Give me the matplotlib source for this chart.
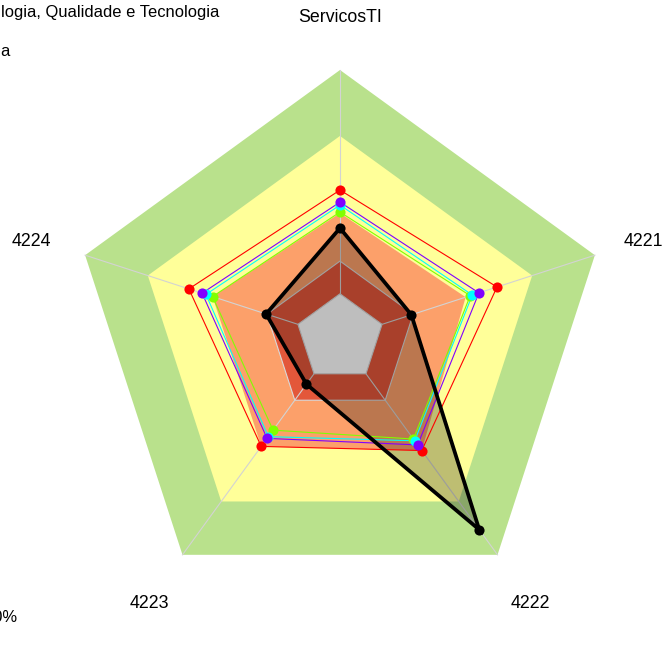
import numpy as np
import matplotlib
matplotlib.use("Agg")
import matplotlib.pyplot as plt

# ---- data (radial fraction of outer ring, 0..1) ----
categories = ["ServicosTI", "4224", "4223", "4222", "4221"]
band_green = [1.0, 1.0, 1.0, 1.0, 1.0]
band_yellow = [0.754, 0.754, 0.754, 0.754, 0.754]
band_orange = [0.466, 0.50, 0.50, 0.519, 0.493]
band_red = [0.287, 0.287, 0.287, 0.287, 0.287]
band_hole = [0.165, 0.165, 0.165, 0.165, 0.165]

series_red = [0.552, 0.593, 0.50, 0.519, 0.616]
series_green = [0.470, 0.50, 0.425, 0.466, 0.511]
series_cyan = [0.496, 0.526, 0.455, 0.474, 0.519]
series_purple = [0.507, 0.541, 0.463, 0.493, 0.545]
series_black = [0.41, 0.29, 0.213, 0.884, 0.28]

series_colors = ["#FF0000", "#80FF00", "#00FFFF", "#8000FF"]

W, H = 663, 666
cx, cy, R = 340.0, 338.0, 268.0

fig = plt.figure(figsize=(W / 100, H / 100), dpi=100)
ax = fig.add_axes([0, 0, 1, 1])
ax.set_xlim(-cx / R, (W - cx) / R)
ax.set_ylim(-(H - cy) / R, cy / R)
ax.set_aspect("equal")
ax.axis("off")

n = len(categories)
ang = np.pi / 2 + np.arange(n) * 2 * np.pi / n
ca, sa = np.cos(ang), np.sin(ang)


def xy(vals):
    v = np.asarray(vals, dtype=float)
    return v * ca, v * sa


def fill_poly(vals, color, **kw):
    x, y = xy(vals)
    ax.fill(x, y, color=color, lw=0, **kw)


fill_poly(band_green, "#B9E18C", zorder=1)
fill_poly(band_yellow, "#FFFF99", zorder=2)
fill_poly(band_orange, "#FCA06A", zorder=3)
x, y = xy(band_red)
ax.fill(x, y, facecolor="#E3573A", edgecolor="#D9D9D9", lw=0.8, zorder=4)
x, y = xy(band_hole)
ax.fill(x, y, facecolor="white", edgecolor="#D9D9D9", lw=0.8, zorder=5)

# spokes
for i in range(n):
    ax.plot([band_hole[i] * ca[i], ca[i]], [band_hole[i] * sa[i], sa[i]],
            color="#D3D3D3", lw=0.8, zorder=6)

# black series fill
bx, by = xy(series_black)
ax.fill(bx, by, color="black", alpha=0.255, lw=0, zorder=7)

for vals, col in zip([series_red, series_green, series_cyan, series_purple], series_colors):
    x, y = xy(vals)
    ax.plot(np.append(x, x[0]), np.append(y, y[0]), color=col, lw=0.8, zorder=8)
    ax.plot(x, y, "o", color=col, ms=7.3, mew=0, zorder=9)

ax.plot(np.append(bx, bx[0]), np.append(by, by[0]), color="black", lw=2.7, zorder=10,
        solid_joinstyle="miter")
ax.plot(bx, by, "o", color="black", ms=7.3, mew=0, zorder=11)

# axis labels
lab_r = 1.21
dy = 3.5 / R
nudge_px = {"4221": -5.0}
fs = 12.8
for i, c in enumerate(categories):
    ax.text(lab_r * ca[i] + nudge_px.get(c, 0.0) / R, lab_r * sa[i] - dy, c,
            ha="center", va="center", fontsize=fs, family="Liberation Sans", zorder=12)

# texts at the left edge (as in reference)
fs2 = 11.9
fig.text(1 / W, 1 - 12 / H, "logia, Qualidade e Tecnologia", ha="left", va="center",
         fontsize=fs2, family="Liberation Sans")
fig.text(0 / W, 1 - 52 / H, "a", ha="left", va="center",
         fontsize=fs2, family="Liberation Sans")
fig.text(18 / W, 1 - 617 / H, "100%", ha="right", va="center",
         fontsize=fs2, family="Liberation Sans")

fig.savefig("out.png", dpi=100)
